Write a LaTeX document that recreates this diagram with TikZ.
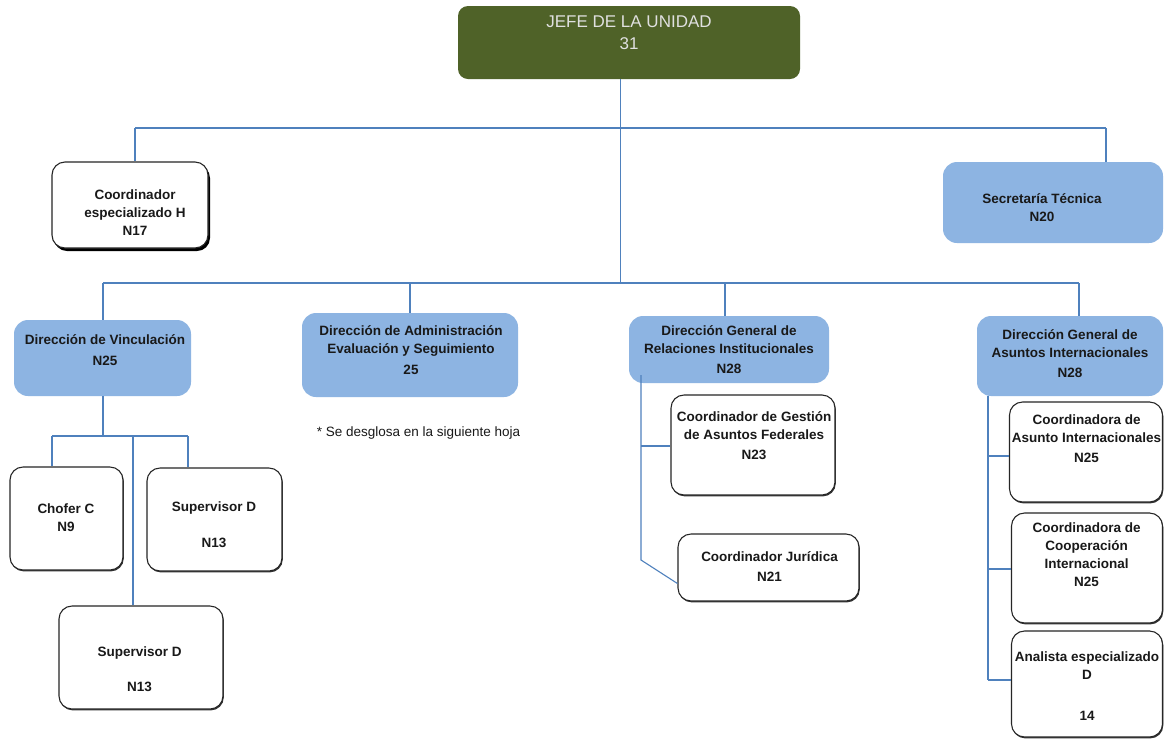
\documentclass[tikz,border=0pt]{standalone}
\usepackage{fontspec}
\setmainfont{Liberation Sans}
\usetikzlibrary{shadows}
\definecolor{olive}{HTML}{4F6228}
\definecolor{boxblue}{HTML}{8DB4E2}
\definecolor{lineblue}{HTML}{4F81BD}
\tikzset{
  wbox/.style={draw=black!85, line width=1.1pt, rounded corners=13pt, fill=white, inner sep=0,
    drop shadow={shadow xshift=0.8pt, shadow yshift=-1.4pt, fill=black!80, opacity=1}},
  bbox/.style={fill=boxblue, rounded corners=14pt, inner sep=0},
  lbl/.style={font=\bfseries\fontsize{13.5}{18}\selectfont, align=center, inner sep=0, text=black!90},
  con/.style={draw=lineblue, line width=1.1pt},
  bus/.style={draw=lineblue, line width=1.9pt},
}
\begin{document}
\begin{tikzpicture}[x=1pt,y=-1pt]
\useasboundingbox[fill=white] (0,0) rectangle (1164,740);

% ---------- boxes ----------
\node[fill=olive, rounded corners=10pt, minimum width=342pt, minimum height=73pt] (jefe) at (629,42.5) {};
\node[wbox, minimum width=156pt, minimum height=86pt,
  drop shadow={shadow xshift=2pt, shadow yshift=-3pt, fill=black, opacity=1}] (coordH) at (130,205) {};
\node[bbox, minimum width=220pt, minimum height=81pt] (sec) at (1053,202.5) {};
\node[bbox, minimum width=177pt, minimum height=76pt] (vinc) at (102.5,358) {};
\node[bbox, minimum width=216pt, minimum height=84pt] (admin) at (410,355) {};
\node[bbox, minimum width=200pt, minimum height=67pt] (dgrel) at (729,349.5) {};
\node[bbox, minimum width=186pt, minimum height=80pt] (dgai) at (1070,356) {};
\node[wbox, minimum width=113pt, minimum height=103pt] (chofer) at (66.5,518.5) {};
\node[wbox, minimum width=135pt, minimum height=103pt] (sup1) at (214.5,519.5) {};
\node[wbox, minimum width=164pt, minimum height=103pt] (sup2) at (141,657.5) {};
\node[wbox, minimum width=164pt, minimum height=100pt] (cgaf) at (753,445) {};
\node[wbox, minimum width=181pt, minimum height=67pt] (cjur) at (768.5,567.5) {};
\node[wbox, minimum width=153pt, minimum height=100pt] (cai) at (1086,452) {};
\node[wbox, minimum width=151pt, minimum height=110pt] (ccoop) at (1087,568) {};
\node[wbox, minimum width=151pt, minimum height=106pt] (anal) at (1087,684) {};

% ---------- texts ----------
\node[align=center, inner sep=0, font=\fontsize{17}{22}\selectfont, text=black!12] (jefeT) at (629,33) {JEFE DE LA UNIDAD\\31};
\node[lbl] (coordHT) at (135,213) {Coordinador\\especializado H\\N17};
\node[lbl] (secT) at (1042,207.5) {Secretaría Técnica\\N20};
\node[lbl] (vincT) at (105,350.5) {Dirección de Vinculación\\[3pt]N25};
\node[lbl] (adminT) at (411,350.5) {Dirección de Administración\\Evaluación y Seguimiento\\[3pt]25};
\node[inner sep=0, font=\fontsize{13.5}{18}\selectfont, text=black!90] (note) at (418.5,433) {* Se desglosa en la siguiente hoja};
\node[lbl] (dgrelT) at (729,350) {Dirección General de\\Relaciones Institucionales\\[2pt]N28};
\node[lbl] (dgaiT) at (1070,354) {Dirección General de\\Asuntos Internacionales\\[2pt]N28};
\node[lbl] (choferT) at (66,517.5) {Chofer C\\N9};
\node[lbl] (sup1T) at (214,525) {Supervisor D\\[18pt]N13};
\node[lbl] (sup2T) at (139.6,669.5) {Supervisor D\\[17pt]N13};
\node[lbl] (cgafT) at (754,436) {Coordinador de Gestión\\de Asuntos Federales\\[2pt]N23};
\node[lbl] (cjurT) at (769.5,567) {Coordinador Jurídica\\[2pt]N21};
\node[lbl] (caiT) at (1086.5,439) {Coordinadora de\\Asunto Internacionales\\[2pt]N25};
\node[lbl] (ccoopT) at (1086.5,555) {Coordinadora de\\Cooperación\\Internacional\\N25};
\node[lbl] (analT) at (1087,686.5) {Analista especializado\\D\\[23pt]14};

% ---------- connectors ----------
\coordinate (b1L) at (135,128);
\coordinate (b1R) at (1106,128);
\coordinate (b2L) at (103,283);
\coordinate (b2J) at (620,283);
\coordinate (b2R) at (1079,283);
\coordinate (b2D) at (725,283);

\draw[bus] (b1L) -- (b1R);
\draw[con] (b1L) -- (coordH.north -| b1L);
\draw[con] (b1R) -- (sec.north -| b1R);
\draw[con, line width=0.9pt] (jefe.south -| b2J) -- (b2J);
\draw[con] (b2L) -- (b2R);
\draw[con] (b2L) -- (vinc.north -| b2L);
\draw[con] (admin.north |- b2L) -- (admin.north);
\draw[con] (b2D) -- (dgrel.north -| b2D);
\draw[con] (b2R) -- (dgai.north -| b2R);

% Vinculacion children
\coordinate (vL) at (52,436);
\coordinate (vM) at (133,436);
\coordinate (vR) at (188,436);
\draw[con] (vinc.south -| 103,0) -- (vinc.south -| 103,0) |- (vM);
\draw[con] (vL) -- (vR);
\draw[con] (vL) -- (chofer.north -| vL);
\draw[con] (vR) -- (sup1.north -| vR);
\draw[con] (vM) -- (sup2.north -| vM);

% Relaciones children
\coordinate (r0) at (641,375);
\coordinate (r1) at (641,560);
\coordinate (r2) at (641,446);
\draw[con] (r0) -- (r1) -- ([yshift=-16pt]cjur.west);
\draw[con] (r2) -- (cgaf.west |- r2);

% Asuntos Internacionales children
\coordinate (a1) at (988,456);
\coordinate (a2) at (988,569);
\coordinate (a3) at (988,680);
\draw[con] (dgai.south -| a1) -- (a3);
\draw[con] (a1) -- (cai.west |- a1);
\draw[con] (a2) -- (ccoop.west |- a2);
\draw[con] (a3) -- (anal.west |- a3);
\end{tikzpicture}
\end{document}
